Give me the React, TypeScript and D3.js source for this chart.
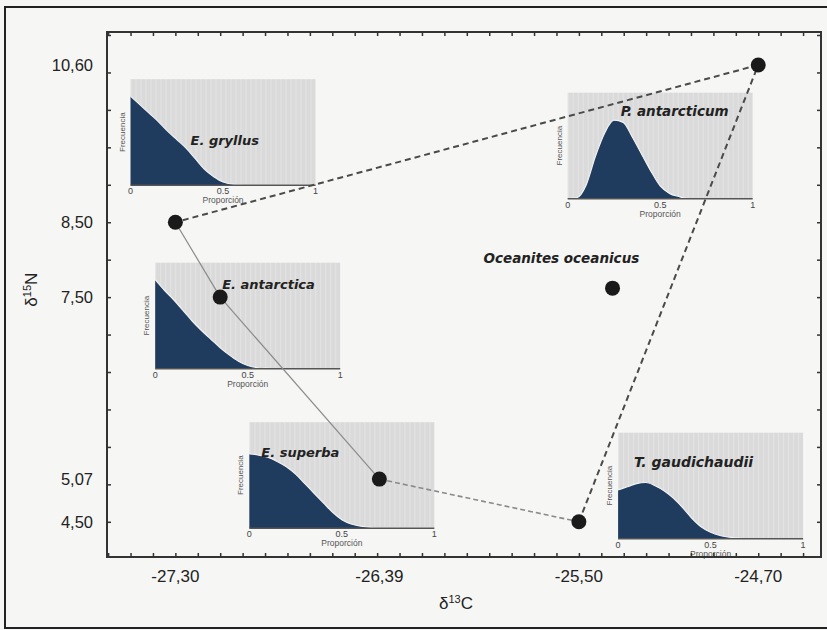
import React, { useRef, useEffect } from "react";
import * as d3 from "d3";

// main scatter: δ13C vs δ15N per species
const species = [
  "E. gryllus",
  "E. antarctica",
  "E. superba",
  "T. gaudichaudii",
  "P. antarcticum",
  "Oceanites oceanicus",
];
const d13C = [-27.3, -27.1, -26.39, -25.5, -24.7, -25.35];
const d15N = [8.5, 7.5, 5.07, 4.5, 10.6, 7.62];

// hull drawn around the prey sources (indexes into species)
const hullOrder = [0, 1, 2, 3, 4, 0];

const xTickValues = [-27.3, -26.39, -25.5, -24.7];
const xTickLabels = ["-27,30", "-26,39", "-25,50", "-24,70"];
const yTickValues = [10.6, 8.5, 7.5, 5.07, 4.5];
const yTickLabels = ["10,60", "8,50", "7,50", "5,07", "4,50"];

// inset histograms: proportion of diet (0..1) vs relative frequency
const proportion = [
  0, 0.05, 0.1, 0.15, 0.2, 0.25, 0.3, 0.35, 0.4, 0.45, 0.5, 0.55, 0.6, 0.65,
  0.7, 0.75, 0.8, 0.85, 0.9, 0.95, 1,
];
const freqGryllus = [
  0.84, 0.76, 0.68, 0.6, 0.51, 0.43, 0.35, 0.25, 0.15, 0.08, 0.03, 0.01, 0.005,
  0, 0, 0, 0, 0, 0, 0, 0,
];
const freqAntarctica = [
  0.84, 0.74, 0.65, 0.55, 0.45, 0.36, 0.28, 0.2, 0.13, 0.07, 0.03, 0.01, 0.005,
  0, 0, 0, 0, 0, 0, 0, 0,
];
const freqSuperba = [
  0.7, 0.69, 0.67, 0.63, 0.58, 0.51, 0.42, 0.33, 0.24, 0.15, 0.08, 0.04, 0.02,
  0.01, 0, 0, 0, 0, 0, 0, 0,
];
const freqGaudichaudii = [
  0.46, 0.49, 0.52, 0.53, 0.5, 0.45, 0.38, 0.29, 0.19, 0.11, 0.06, 0.03, 0.015,
  0.005, 0, 0, 0, 0, 0, 0, 0,
];
const freqPleuragramma = [
  0, 0.01, 0.13, 0.4, 0.62, 0.74, 0.72, 0.58, 0.42, 0.26, 0.12, 0.05, 0.02, 0,
  0, 0, 0, 0, 0, 0, 0,
];

const App: React.FC = () => {
  const ref = useRef<SVGSVGElement | null>(null);

  useEffect(() => {
    if (!ref.current) return;
    const W = 827;
    const H = 630;
    const margin = { top: 32, right: 6, bottom: 73, left: 107 };
    const width = W - margin.left - margin.right;
    const height = H - margin.top - margin.bottom;

    const svg = d3.select(ref.current);
    svg.selectAll("*").remove();

    // faint vertical streaks like the scanned inset panels
    const pat = svg
      .append("defs")
      .append("pattern")
      .attr("id", "streaks")
      .attr("width", 5)
      .attr("height", 10)
      .attr("patternUnits", "userSpaceOnUse");
    pat.append("rect").attr("width", 5).attr("height", 10).attr("fill", "#dadada");
    pat.append("rect").attr("width", 1).attr("height", 10).attr("fill", "#e4e4e4");

    svg.append("rect").attr("width", W).attr("height", H).attr("fill", "#f6f6f4");
    // outer border of the scanned figure
    svg
      .append("rect")
      .attr("x", 5)
      .attr("y", 7)
      .attr("width", 840)
      .attr("height", 621)
      .attr("fill", "none")
      .attr("stroke", "#222")
      .attr("stroke-width", 2);

    const x = d3.scaleLinear().domain([-27.605, -24.42]).range([0, width]);
    const y = d3.scaleLinear().domain([4.03, 11.04]).range([height, 0]);

    const g = svg
      .append("g")
      .attr("transform", `translate(${margin.left},${margin.top})`);

    // insets (placed by their top-left corner in data units)
    const insets = [
      { name: species[0], freq: freqGryllus, at: [-27.5, 10.41], title: [60, 66], size: 13 },
      { name: species[4], freq: freqPleuragramma, at: [-25.55, 10.23], title: [53, 23], size: 13.5 },
      { name: species[1], freq: freqAntarctica, at: [-27.39, 7.96], title: [67, 26], size: 13 },
      { name: species[2], freq: freqSuperba, at: [-26.97, 5.83], title: [12, 35], size: 13 },
      { name: species[3], freq: freqGaudichaudii, at: [-25.325, 5.69], title: [16, 34], size: 14 },
    ];
    const iw = 185;
    const ih = 106;
    const ix = d3.scaleLinear().domain([0, 1]).range([0, iw]);
    const iy = d3.scaleLinear().domain([0, 1]).range([ih, 0]);
    const area = d3
      .area<number>()
      .x((_, i) => ix(proportion[i]))
      .y0(ih)
      .y1((d) => iy(d))
      .curve(d3.curveMonotoneX);
    const edge = d3
      .line<number>()
      .x((_, i) => ix(proportion[i]))
      .y((d) => iy(d))
      .curve(d3.curveMonotoneX);

    insets.forEach((ins) => {
      const ig = g
        .append("g")
        .attr("transform", `translate(${x(ins.at[0])},${y(ins.at[1])})`);
      ig.append("rect").attr("width", iw).attr("height", ih).attr("fill", "url(#streaks)");
      ig.append("path").datum(ins.freq).attr("d", area).attr("fill", "#1f3b5e");
      ig.append("path")
        .datum(ins.freq)
        .attr("d", edge)
        .attr("fill", "none")
        .attr("stroke", "#f2f2f2")
        .attr("stroke-width", 1.2);
      ig.append("line")
        .attr("x1", 0)
        .attr("x2", iw)
        .attr("y1", ih)
        .attr("y2", ih)
        .attr("stroke", "#555")
        .attr("stroke-width", 1.5);
      ig.selectAll("text.tk")
        .data([0, 0.5, 1])
        .enter()
        .append("text")
        .attr("class", "tk")
        .attr("x", (d) => ix(d))
        .attr("y", ih + 9)
        .attr("text-anchor", "middle")
        .attr("font-family", "Liberation Sans, Arial, sans-serif")
        .attr("font-size", 9)
        .attr("fill", "#444")
        .text((d) => String(d));
      ig.append("text")
        .attr("x", iw / 2)
        .attr("y", ih + 18)
        .attr("text-anchor", "middle")
        .attr("font-family", "Liberation Sans, Arial, sans-serif")
        .attr("font-size", 8.5)
        .attr("fill", "#555")
        .text("Proporción");
      ig.append("text")
        .attr("transform", `translate(-6,${ih / 2}) rotate(-90)`)
        .attr("text-anchor", "middle")
        .attr("font-family", "Liberation Sans, Arial, sans-serif")
        .attr("font-size", 8)
        .attr("fill", "#555")
        .text("Frecuencia");
      ig.append("text")
        .attr("x", ins.title[0])
        .attr("y", ins.title[1])
        .attr("font-family", "DejaVu Sans, sans-serif")
        .attr("font-weight", "bold")
        .attr("font-style", "italic")
        .attr("font-size", ins.size)
        .attr("fill", "#222")
        .text(ins.name);
    });

    // hull segments: first two solid light, then dashed
    const segStyle = [
      { stroke: "#8a8a8a", w: 1.2, dash: null },
      { stroke: "#8a8a8a", w: 1.2, dash: null },
      { stroke: "#8a8a8a", w: 1.6, dash: "5,3" },
      { stroke: "#4a4a4a", w: 2, dash: "6,4" },
      { stroke: "#4a4a4a", w: 2, dash: "6,4" },
    ];
    d3.pairs(hullOrder).forEach(([a, b], i) => {
      g.append("line")
        .attr("x1", x(d13C[a]))
        .attr("y1", y(d15N[a]))
        .attr("x2", x(d13C[b]))
        .attr("y2", y(d15N[b]))
        .attr("stroke", segStyle[i].stroke)
        .attr("stroke-width", segStyle[i].w)
        .attr("stroke-dasharray", segStyle[i].dash);
    });

    g.selectAll("circle")
      .data(species)
      .enter()
      .append("circle")
      .attr("cx", (_, i) => x(d13C[i]))
      .attr("cy", (_, i) => y(d15N[i]))
      .attr("r", 7.5)
      .attr("fill", "#1a1a1a");

    // consumer label
    g.append("text")
      .attr("x", x(d13C[5]) - 129)
      .attr("y", y(d15N[5]) - 25)
      .attr("font-family", "DejaVu Sans, sans-serif")
      .attr("font-weight", "bold")
      .attr("font-style", "italic")
      .attr("font-size", 13.5)
      .attr("fill", "#222")
      .text(species[5]);

    // frame with small inward ticks
    g.append("rect")
      .attr("width", width)
      .attr("height", height)
      .attr("fill", "none")
      .attr("stroke", "#333")
      .attr("stroke-width", 2);

    const xMinor = d3.range(-27.6, -24.42, 0.1);
    const yMinor = d3.range(4.5, 11.01, 0.5);
    const tickStyle = (sel: any) => {
      sel.select(".domain").remove();
      sel.selectAll("text").remove();
      sel.selectAll("line").attr("stroke", "#333").attr("stroke-width", 1.5);
    };
    g.append("g")
      .attr("transform", `translate(0,${height})`)
      .call(d3.axisTop(x).tickValues(xMinor).tickSize(4))
      .call(tickStyle);
    g.append("g")
      .call(d3.axisBottom(x).tickValues(xMinor).tickSize(4))
      .call(tickStyle);
    g.append("g").call(d3.axisRight(y).tickValues(yMinor).tickSize(4)).call(tickStyle);
    g.append("g")
      .attr("transform", `translate(${width},0)`)
      .call(d3.axisLeft(y).tickValues(yMinor).tickSize(4))
      .call(tickStyle);

    // labelled values
    g.selectAll("text.xl")
      .data(xTickValues)
      .enter()
      .append("text")
      .attr("class", "xl")
      .attr("x", (d) => x(d))
      .attr("y", height + 25)
      .attr("text-anchor", "middle")
      .attr("font-family", "Liberation Sans, Arial, sans-serif")
      .attr("font-size", 17)
      .attr("fill", "#222")
      .text((_, i) => xTickLabels[i]);
    g.selectAll("text.yl")
      .data(yTickValues)
      .enter()
      .append("text")
      .attr("class", "yl")
      .attr("x", -14)
      .attr("y", (d) => y(d))
      .attr("dy", "0.35em")
      .attr("text-anchor", "end")
      .attr("font-family", "Liberation Sans, Arial, sans-serif")
      .attr("font-size", 16.5)
      .attr("fill", "#222")
      .text((_, i) => yTickLabels[i]);

    const xt = g
      .append("text")
      .attr("x", width / 2 - 8)
      .attr("y", height + 52)
      .attr("text-anchor", "middle")
      .attr("font-family", "Liberation Sans, Arial, sans-serif")
      .attr("font-size", 17)
      .attr("fill", "#222");
    xt.append("tspan").text("δ");
    xt.append("tspan").attr("font-size", 11).attr("dy", -6).text("13");
    xt.append("tspan").attr("dy", 6).text("C");

    const yt = g
      .append("text")
      .attr("transform", `translate(-70,${y(7.6)}) rotate(-90)`)
      .attr("text-anchor", "middle")
      .attr("font-family", "Liberation Sans, Arial, sans-serif")
      .attr("font-size", 17)
      .attr("fill", "#222");
    yt.append("tspan").text("δ");
    yt.append("tspan").attr("font-size", 11).attr("dy", -6).text("15");
    yt.append("tspan").attr("dy", 6).text("N");
  }, []);

  return (
    <svg
      ref={ref}
      width={827}
      height={630}
      style={{ position: "absolute", left: 0, top: 0 }}
    />
  );
};

export default App;
